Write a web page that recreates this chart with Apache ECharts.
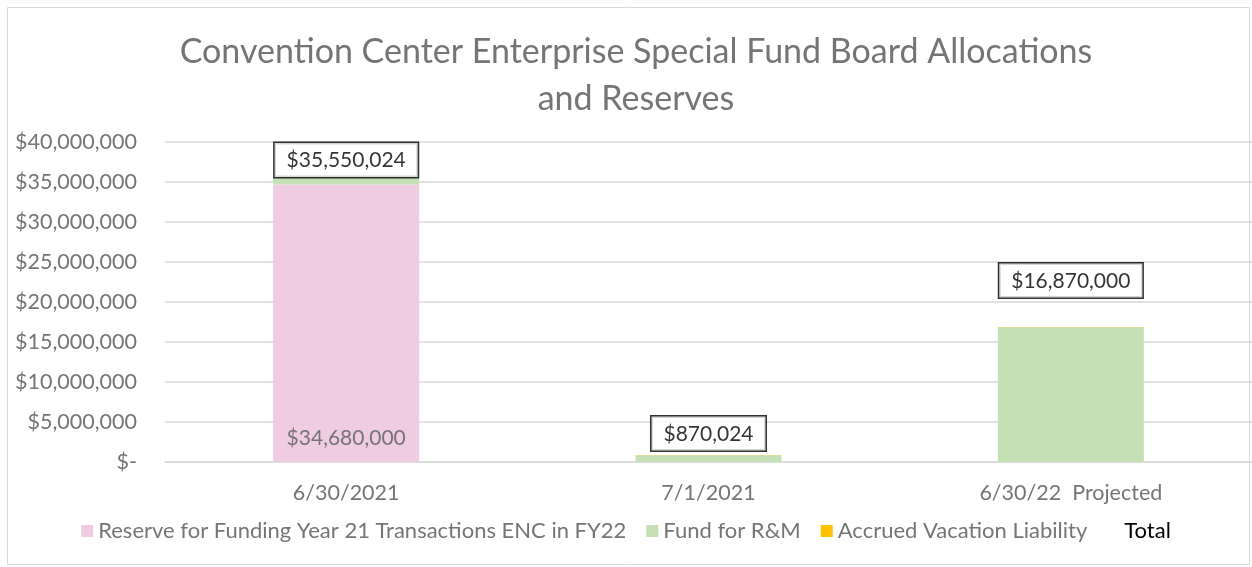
<!DOCTYPE html>
<html><head><meta charset="utf-8">
<script src="https://cdn.jsdelivr.net/npm/echarts@6/dist/echarts.min.js"></script>
<style>html,body{margin:0;padding:0;background:#fff}#c{width:1252px;height:567px}</style>
</head><body><div id="c"></div>
<script>
const categories = ['6/30/2021', '7/1/2021', '6/30/22  Projected'];
const reserveVals = [34680000, 0, 0];
const fundRMVals = [870024, 830024, 16830000];
const accruedVals = [0, 40000, 40000];
const totalVals = [35550024, 870024, 16870000];
const yTicks = [0, 5000000, 10000000, 15000000, 20000000, 25000000, 30000000, 35000000, 40000000];

const FONT = 'Lato';
function money(v) {
  if (v === 0) return '$-';
  return '$' + v.toLocaleString('en-US');
}
const chart = echarts.init(document.getElementById('c'));
const totalDist = [0, 4, 29];
chart.setOption({
  animation: false,
  textStyle: { fontFamily: FONT },
  graphic: [{ type: 'rect', shape: { x: 7.5, y: 7.5, width: 1242, height: 557 }, style: { fill: 'none', stroke: '#d9d9d9', lineWidth: 1 } }],
  title: {
    text: 'Convention Center Enterprise Special Fund Board Allocations\nand Reserves',
    left: 631, textAlign: 'center', top: 24,
    textStyle: { fontFamily: FONT, fontSize: 34, fontWeight: 'normal', color: '#757575', lineHeight: 47 }
  },
  legend: {
    top: 515, left: 'center', itemWidth: 12, itemHeight: 12, itemGap: 20,
    textStyle: { fontFamily: FONT, fontSize: 22, color: '#757575' },
    data: [
      { name: 'Reserve for Funding Year 21 Transactions ENC in FY22', icon: 'rect' },
      { name: 'Fund for R&M', icon: 'rect' },
      { name: 'Accrued Vacation Liability', icon: 'rect' },
      { name: 'Total', icon: 'rect', itemStyle: { opacity: 0 }, textStyle: { color: '#000' } }
    ]
  },
  grid: { left: 165, right: 0, top: 142, bottom: 105, containLabel: false },
  xAxis: {
    type: 'category', data: categories,
    axisLine: { show: true, lineStyle: { color: '#d9d9d9', width: 1.5 } },
    axisTick: { show: false },
    axisLabel: { fontFamily: FONT, fontSize: 21.5, color: '#757575', margin: 20 }
  },
  yAxis: {
    type: 'value', min: 0, max: 40000000, interval: 5000000,
    axisLine: { show: false }, axisTick: { show: false },
    splitLine: { lineStyle: { color: '#d9d9d9', width: 1.5 } },
    axisLabel: { fontFamily: FONT, fontSize: 21.5, color: '#757575', margin: 28,
      formatter: v => yTicks.includes(v) ? money(v) : '' }
  },
  series: [
    { name: 'Reserve for Funding Year 21 Transactions ENC in FY22', type: 'bar', stack: 's', barWidth: 146,
      data: reserveVals, itemStyle: { color: '#F0CCE2' },
      label: { show: true, position: 'insideBottom', distance: 13, fontFamily: FONT, fontSize: 21, color: '#757575',
        formatter: p => p.value ? money(p.value) : '' } },
    { name: 'Fund for R&M', type: 'bar', stack: 's', barWidth: 146, data: fundRMVals, itemStyle: { color: '#C5E0B4' } },
    { name: 'Accrued Vacation Liability', type: 'bar', stack: 's', barWidth: 146, data: accruedVals, itemStyle: { color: '#FFC000' } },
    { name: 'Total', type: 'scatter', symbol: 'circle', symbolSize: 1, itemStyle: { color: 'rgba(0,0,0,0)' },
      z: 10,
      data: totalVals.map((v, i) => ({ value: v, label: { distance: totalDist[i] } })),
      label: { show: true, position: 'top', fontFamily: FONT, fontSize: 21, color: '#000',
        backgroundColor: '#fff', borderColor: '#000', borderWidth: 1.5, padding: [7, 12, 6, 12],
        formatter: p => money(p.value) } }
  ]
});
</script></body></html>
